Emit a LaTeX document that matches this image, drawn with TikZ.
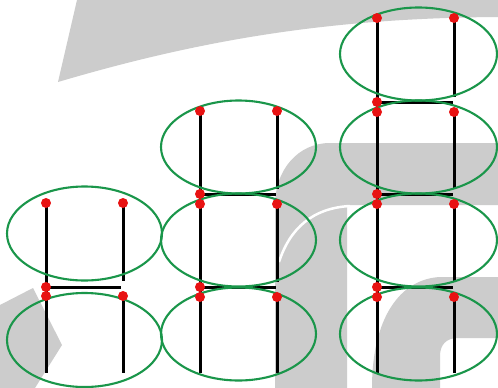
\documentclass[tikz,border=0pt]{standalone}
\usetikzlibrary{shapes.geometric}
\definecolor{ellgreen}{RGB}{26,150,74}
\definecolor{dotred}{RGB}{232,18,18}
\definecolor{wm}{RGB}{204,204,204}
\tikzset{
  rung/.style={line width=3pt, black},
  ring/.style={draw=ellgreen, line width=2.1pt, ellipse, inner sep=0pt, minimum width=155pt, minimum height=93pt},
  pin/.style={fill=dotred},
  wmark/.style={fill=wm}
}
\begin{document}
\begin{tikzpicture}[x=1pt,y=-1pt]
\useasboundingbox (0,0) rectangle (498,388);
\fill[white] (0,0) rectangle (498,388);
% watermark
\fill[wmark] (77,0) -- (498,0) -- (498,17) .. controls (330,18) and (200,40) .. (58,82) -- cycle;
\fill[wmark] (498,143) -- (330,143) .. controls (298,143) and (275,170) .. (275,205) -- (275,388) -- (347,388) -- (347,205) -- (498,205) -- cycle;
\draw[white, line width=2.5pt] (279,262) .. controls (290,228) and (313,208) .. (350,206);
\fill[wmark] (372,388) .. controls (372,318) and (400,279) .. (440,277) -- (498,277) -- (498,338) -- (458,338) .. controls (446,338) and (440,345) .. (440,356) -- (440,388) -- cycle;
\fill[wmark] (0,305) -- (33,288) -- (62,345) -- (35,388) -- (0,388) -- cycle;
% coordinates, column C (right)
\foreach \i/\t in {1/18,2/112,3/204,4/297} {
  \coordinate (cC-L\i) at (377,\t); \coordinate (cC-R\i) at (454,\t); }
\foreach \i/\b in {1/102,2/194,3/287} {
  \coordinate (cC-B\i) at (377,\b); \coordinate (cC-E\i) at (453,\b); \coordinate (cC-S\i) at (454,\b-5); }
\coordinate (cC-LZ) at (377,373); \coordinate (cC-RZ) at (454,373);
% column B (middle)
\foreach \i/\t in {1/111,2/204,3/297} {
  \coordinate (cB-L\i) at (200,\t); \coordinate (cB-R\i) at (277,\t); }
\foreach \i/\b in {1/194,2/287} {
  \coordinate (cB-B\i) at (200,\b); \coordinate (cB-E\i) at (276,\b); \coordinate (cB-S\i) at (277,\b-5); }
\coordinate (cB-LZ) at (200,373); \coordinate (cB-RZ) at (277,373);
% column A (left)
\foreach \i/\t in {1/203,2/296} {
  \coordinate (cA-L\i) at (46,\t); \coordinate (cA-R\i) at (123,\t); }
\coordinate (cA-B1) at (46,287); \coordinate (cA-E1) at (121,287); \coordinate (cA-S1) at (123,281);
\coordinate (cA-LZ) at (46,373); \coordinate (cA-RZ) at (123,373);
% black lines
\draw[rung] (cC-L1) -- (cC-LZ);
\draw[rung] (cC-R1) -- (cC-S1) (cC-R2) -- (cC-S2) (cC-R3) -- (cC-S3) (cC-R4) -- (cC-RZ);
\foreach \i in {1,2,3} \draw[rung] (cC-B\i) -- (cC-E\i);
\draw[rung] (cB-L1) -- (cB-LZ);
\draw[rung] (cB-R1) -- (cB-S1) (cB-R2) -- (cB-S2) (cB-R3) -- (cB-RZ);
\foreach \i in {1,2} \draw[rung] (cB-B\i) -- (cB-E\i);
\draw[rung] (cA-L1) -- (cA-LZ);
\draw[rung] (cA-R1) -- (cA-S1) (cA-R2) -- (cA-RZ);
\draw[rung] (cA-B1) -- (cA-E1);
% green ellipses
\node[ring, minimum width=157pt] (eC1) at (418.5,54) {};
\node[ring, minimum width=157pt] (eC2) at (418.5,147) {};
\node[ring, minimum width=157pt] (eC3) at (418.5,240) {};
\node[ring, minimum width=157pt] (eC4) at (418.5,334) {};
\node[ring] (eB1) at (238.5,147) {};
\node[ring] (eB2) at (238.5,240) {};
\node[ring] (eB3) at (238.5,334) {};
\node[ring, minimum height=94pt] (eA1) at (84.5,233.5) {};
\node[ring, minimum height=94pt] (eA2) at (84.5,340) {};
% red dots
\foreach \i in {1,2,3,4} \fill[pin] (cC-L\i) circle (5pt) (cC-R\i) circle (5pt);
\foreach \i in {1,2,3} \fill[pin] (cC-B\i) circle (5pt);
\foreach \i in {1,2,3} \fill[pin] (cB-L\i) circle (5pt) (cB-R\i) circle (5pt);
\foreach \i in {1,2} \fill[pin] (cB-B\i) circle (5pt);
\foreach \i in {1,2} \fill[pin] (cA-L\i) circle (5pt) (cA-R\i) circle (5pt);
\fill[pin] (cA-B1) circle (5pt);
\end{tikzpicture}
\end{document}
